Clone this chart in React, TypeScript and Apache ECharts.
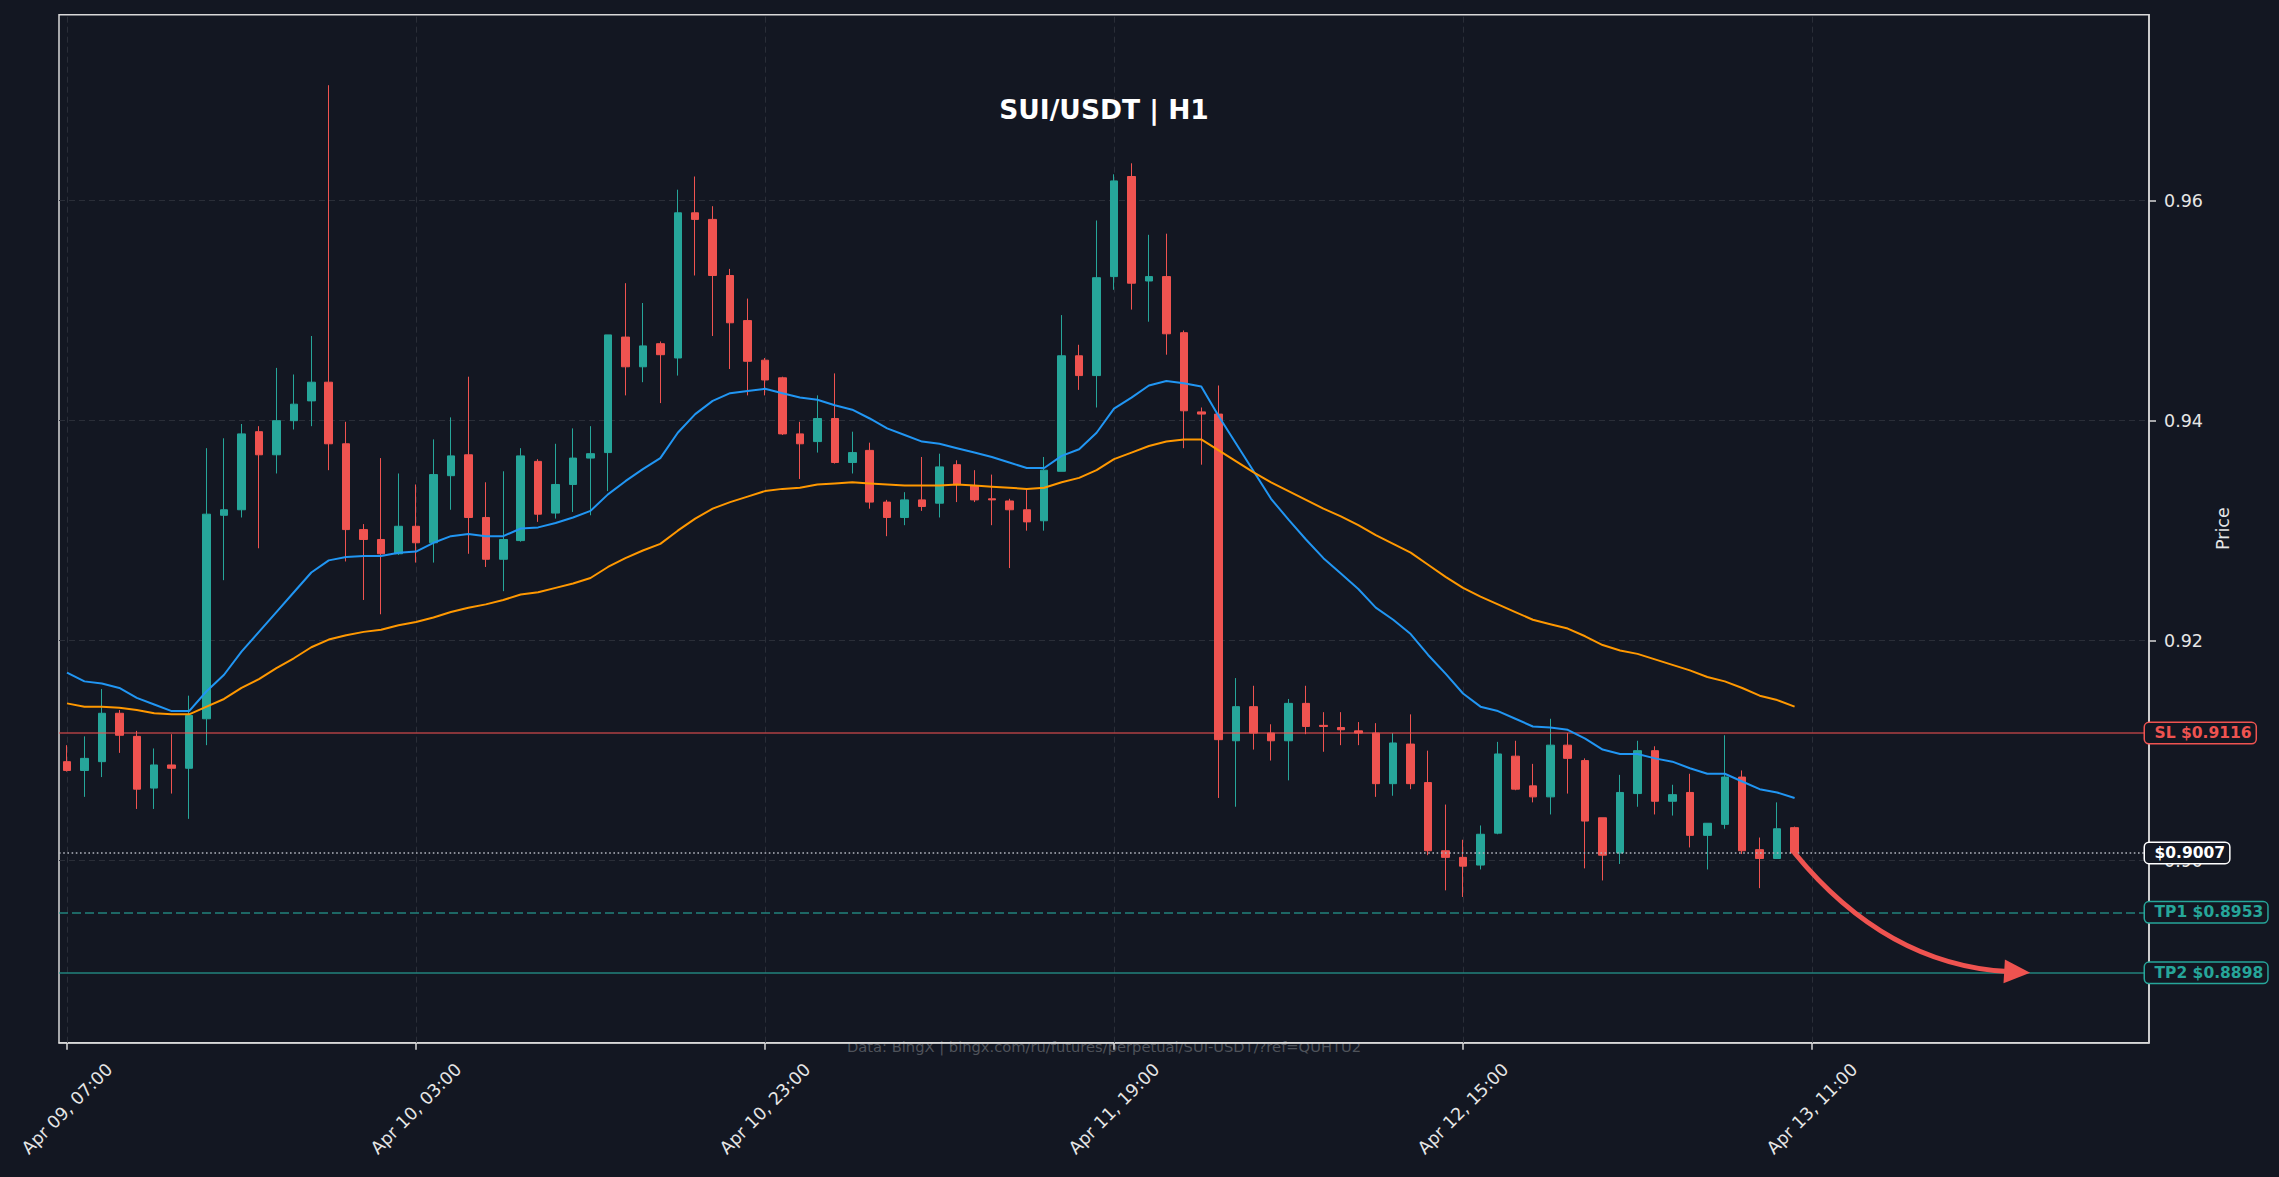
import React, { useEffect, useRef } from "react";
import * as echarts from "echarts";

// ---------- data ----------
const OPEN = [0.9090,0.9082,0.9090,0.9134,0.9113,0.9066,0.9087,0.9084,0.9129,0.9314,
0.9319,0.9390,0.9369,0.9400,0.9418,0.9435,0.9379,0.9301,0.9292,0.9279,
0.9304,0.9289,0.9350,0.9369,0.9312,0.9274,0.9291,0.9363,0.9316,0.9342,
0.9366,0.9371,0.9476,0.9449,0.9470,0.9457,0.9589,0.9583,0.9532,0.9491,
0.9455,0.9439,0.9388,0.9381,0.9402,0.9362,0.9373,0.9326,0.9312,0.9328,
0.9325,0.9360,0.9341,0.9329,0.9327,0.9319,0.9309,0.9354,0.9459,0.9441,
0.9531,0.9622,0.9527,0.9531,0.9480,0.9408,0.9406,0.9109,0.9140,0.9116,
0.9109,0.9143,0.9123,0.9121,0.9118,0.9116,0.9070,0.9106,0.9071,0.9009,
0.9003,0.8996,0.9025,0.9095,0.9068,0.9058,0.9105,0.9091,0.9039,0.9007,
0.9061,0.9100,0.9054,0.9062,0.9023,0.9033,0.9076,0.9010,0.9002,0.9030];

const CLOSE = [0.9082,0.9093,0.9134,0.9114,0.9065,0.9087,0.9084,0.9132,0.9315,0.9319,
0.9388,0.9369,0.9400,0.9415,0.9435,0.9379,0.9301,0.9292,0.9279,0.9304,
0.9289,0.9351,0.9368,0.9312,0.9274,0.9292,0.9368,0.9315,0.9342,0.9366,
0.9370,0.9478,0.9449,0.9468,0.9460,0.9589,0.9583,0.9532,0.9489,0.9454,
0.9437,0.9388,0.9379,0.9402,0.9362,0.9371,0.9326,0.9312,0.9328,0.9322,
0.9358,0.9342,0.9328,0.9328,0.9319,0.9308,0.9355,0.9459,0.9441,0.9530,
0.9618,0.9525,0.9531,0.9479,0.9409,0.9406,0.9110,0.9140,0.9116,0.9109,
0.9143,0.9122,0.9122,0.9119,0.9116,0.9070,0.9107,0.9070,0.9009,0.9003,
0.8995,0.9024,0.9097,0.9065,0.9058,0.9105,0.9093,0.9036,0.9005,0.9062,
0.9100,0.9054,0.9060,0.9023,0.9034,0.9076,0.9009,0.9002,0.9029,0.9007];

const LOW = [0.9081,0.9058,0.9076,0.9098,0.9047,0.9047,0.9061,0.9038,0.9105,0.9255,
0.9312,0.9284,0.9352,0.9392,0.9395,0.9355,0.9272,0.9237,0.9224,0.9278,
0.9271,0.9271,0.9319,0.9279,0.9267,0.9245,0.9290,0.9308,0.9311,0.9317,
0.9314,0.9336,0.9423,0.9435,0.9416,0.9441,0.9532,0.9477,0.9447,0.9423,
0.9423,0.9387,0.9347,0.9371,0.9361,0.9352,0.9320,0.9295,0.9305,0.9318,
0.9312,0.9326,0.9326,0.9305,0.9266,0.9300,0.9300,0.9354,0.9428,0.9412,
0.9519,0.9501,0.9490,0.9460,0.9375,0.9360,0.9057,0.9049,0.9101,0.9091,
0.9073,0.9115,0.9099,0.9105,0.9105,0.9058,0.9059,0.9065,0.9005,0.8973,
0.8967,0.8992,0.9024,0.9064,0.9053,0.9042,0.9061,0.8993,0.8982,0.8997,
0.9049,0.9042,0.9041,0.9012,0.8992,0.9029,0.9006,0.8975,0.9002,0.9007];

const HIGH = [0.9105,0.9113,0.9156,0.9137,0.9118,0.9102,0.9115,0.9150,0.9375,0.9384,
0.9397,0.9395,0.9448,0.9442,0.9477,0.9705,0.9399,0.9306,0.9366,0.9352,
0.9342,0.9383,0.9403,0.9440,0.9344,0.9354,0.9375,0.9365,0.9379,0.9393,
0.9395,0.9478,0.9525,0.9507,0.9472,0.9610,0.9622,0.9595,0.9538,0.9511,
0.9457,0.9440,0.9399,0.9423,0.9443,0.9390,0.9380,0.9328,0.9335,0.9367,
0.9370,0.9364,0.9355,0.9351,0.9329,0.9338,0.9367,0.9496,0.9469,0.9582,
0.9624,0.9634,0.9569,0.9570,0.9482,0.9412,0.9432,0.9166,0.9159,0.9124,
0.9147,0.9159,0.9135,0.9135,0.9126,0.9125,0.9116,0.9133,0.9100,0.9051,
0.9019,0.9032,0.9108,0.9109,0.9088,0.9129,0.9116,0.9093,0.9039,0.9078,
0.9109,0.9104,0.9069,0.9079,0.9034,0.9114,0.9082,0.9021,0.9053,0.9031];

const MA_FAST = [0.9171,0.9163,0.9161,0.9157,0.9148,0.9142,0.9136,0.9136,0.9154,0.9169,
0.9190,0.9208,0.9226,0.9244,0.9262,0.9273,0.9276,0.9277,0.9277,0.9280,
0.9281,0.9289,0.9295,0.9297,0.9295,0.9295,0.9302,0.9303,0.9307,0.9312,
0.9318,0.9333,0.9345,0.9356,0.9366,0.9389,0.9406,0.9418,0.9425,0.9427,
0.9429,0.9425,0.9421,0.9419,0.9414,0.9410,0.9402,0.9393,0.9387,0.9381,
0.9379,0.9375,0.9371,0.9367,0.9362,0.9357,0.9357,0.9368,0.9374,0.9389,
0.9411,0.9421,0.9432,0.9436,0.9434,0.9431,0.9404,0.9379,0.9354,0.9329,
0.9310,0.9292,0.9275,0.9261,0.9247,0.9230,0.9219,0.9206,0.9187,0.9170,
0.9152,0.9140,0.9136,0.9129,0.9122,0.9121,0.9119,0.9111,0.9101,0.9097,
0.9097,0.9093,0.9090,0.9084,0.9079,0.9079,0.9072,0.9065,0.9062,0.9057];

const MA_SLOW = [0.9143,0.9140,0.9140,0.9139,0.9137,0.9134,0.9133,0.9133,0.9140,0.9147,
0.9157,0.9165,0.9175,0.9184,0.9194,0.9201,0.9205,0.9208,0.9210,0.9214,
0.9217,0.9221,0.9226,0.9230,0.9233,0.9237,0.9242,0.9244,0.9248,0.9252,
0.9257,0.9267,0.9275,0.9282,0.9288,0.9300,0.9311,0.9320,0.9326,0.9331,
0.9336,0.9338,0.9339,0.9342,0.9343,0.9344,0.9343,0.9342,0.9341,0.9341,
0.9341,0.9342,0.9341,0.9340,0.9339,0.9338,0.9339,0.9344,0.9348,0.9355,
0.9365,0.9371,0.9377,0.9381,0.9383,0.9383,0.9373,0.9363,0.9353,0.9344,
0.9336,0.9328,0.9320,0.9313,0.9305,0.9296,0.9288,0.9280,0.9269,0.9258,
0.9248,0.9240,0.9233,0.9226,0.9219,0.9215,0.9211,0.9204,0.9196,0.9191,
0.9188,0.9183,0.9178,0.9173,0.9167,0.9163,0.9157,0.9150,0.9146,0.9140];

const X_TICK_POS = [0, 20, 40, 60, 80, 100];
const X_TICK_LABELS = ["Apr 09, 07:00", "Apr 10, 03:00", "Apr 10, 23:00", "Apr 11, 19:00", "Apr 12, 15:00", "Apr 13, 11:00"];
const Y_TICKS = [0.9, 0.92, 0.94, 0.96];

const LEVEL_NAMES = ["SL", "", "TP1", "TP2"];
const LEVEL_VALUES = [0.9116, 0.9007, 0.8953, 0.8898];

const ARROW = [99, 0.9007, 112.5, 0.8898];

const TITLE = "SUI/USDT | H1";
const WATERMARK = "Data: BingX | bingx.com/ru/futures/perpetual/SUI-USDT/?ref=QUHTU2";

// ---------- layout / style ----------
const W = 2279;
const H = 1177;
const PLOT_L = 59;
const PLOT_R = 2149;
const PLOT_T = 14.7;
const PLOT_B = 1042.7;
const X_MIN = -0.458;
const X_MAX = 119.31;
const Y_MIN = 0.88345;
const Y_MAX = 0.97691;

const BG = "#131722";
const SPINE = "#d9d9d9";
const TXT = "#e6e6e6";
const UP = "#26a69a";
const DOWN = "#ef5350";
const FONT = "DejaVu Sans";

const LEVEL_STYLES = [
  { line: { color: "rgba(239,83,80,0.7)", width: 1.5, type: "solid" }, text: DOWN, border: DOWN },
  { line: { color: "#b2b5be", width: 1.5, type: [1.6, 2.6] }, text: "#ffffff", border: "#ffffff" },
  { line: { color: "rgba(38,166,154,0.75)", width: 1.5, type: [9, 4] }, text: UP, border: UP },
  { line: { color: "rgba(38,166,154,0.75)", width: 1.5, type: "solid" }, text: UP, border: UP },
];

function buildOption() {
  const candleData = OPEN.map((o, i) => [i, o, CLOSE[i], LOW[i], HIGH[i]]);
  const fastData = MA_FAST.map((v, i) => [i, v]);
  const slowData = MA_SLOW.map((v, i) => [i, v]);

  const gridLineStyle = { color: "#2a2e38", width: 1, type: [6, 4] };
  const gridMarks = [
    ...Y_TICKS.map((v) => ({ yAxis: v })),
    ...X_TICK_POS.map((v) => ({ xAxis: v })),
  ];

  const levelMarks = LEVEL_VALUES.map((v, i) => ({
    yAxis: v,
    lineStyle: LEVEL_STYLES[i].line,
    label: {
      show: true,
      position: "end",
      distance: -4,
      formatter: (LEVEL_NAMES[i] ? LEVEL_NAMES[i] + " " : "") + "$" + v.toFixed(4),
      color: LEVEL_STYLES[i].text,
      fontFamily: FONT,
      fontWeight: "bold",
      fontSize: 15.5,
      backgroundColor: BG,
      borderColor: LEVEL_STYLES[i].border,
      borderWidth: 1.5,
      borderRadius: 4,
      padding: [2, 4, 2, 9.5],
    },
  }));

  return {
    animation: false,
    backgroundColor: BG,
    textStyle: { fontFamily: FONT },
    grid: {
      left: PLOT_L,
      right: W - PLOT_R,
      top: PLOT_T,
      bottom: H - PLOT_B,
      show: true,
      borderColor: SPINE,
      borderWidth: 1.5,
      backgroundColor: "transparent",
    },
    xAxis: {
      type: "value",
      min: X_MIN,
      max: X_MAX,
      axisLine: { show: true, onZero: false, lineStyle: { color: SPINE, width: 1.5 } },
      axisTick: { show: true, customValues: X_TICK_POS, length: 7, lineStyle: { color: SPINE, width: 1.5 } },
      axisLabel: {
        customValues: X_TICK_POS,
        formatter: (v: number) => X_TICK_LABELS[X_TICK_POS.indexOf(Math.round(v))] ?? "",
        rotate: 45,
        align: "center",
        verticalAlign: "middle",
        margin: 66,
        color: TXT,
        fontSize: 17.5,
        fontFamily: FONT,
      },
      splitLine: { show: false },
    },
    yAxis: {
      type: "value",
      position: "right",
      min: Y_MIN,
      max: Y_MAX,
      axisLine: { show: true, onZero: false, lineStyle: { color: SPINE, width: 1.5 } },
      axisTick: { show: true, customValues: Y_TICKS, length: 7, lineStyle: { color: SPINE, width: 1.5 } },
      axisLabel: {
        customValues: Y_TICKS,
        formatter: (v: number) => v.toFixed(2),
        margin: 15,
        color: TXT,
        fontSize: 17.5,
        fontFamily: FONT,
      },
      splitLine: { show: false },
      name: "Price",
      nameLocation: "middle",
      nameRotate: 90,
      nameGap: 63,
      nameTextStyle: { color: TXT, fontSize: 17.5, fontFamily: FONT },
    },
    graphic: [
      {
        type: "text",
        x: (PLOT_L + PLOT_R) / 2,
        y: 109,
        z: 100,
        style: {
          text: TITLE,
          fill: "#ffffff",
          fontFamily: FONT,
          fontWeight: "bold",
          fontSize: 26.5,
          align: "center",
          verticalAlign: "middle",
        },
      },
      {
        type: "text",
        x: (PLOT_L + PLOT_R) / 2,
        y: 1046,
        z: -1,
        style: {
          text: WATERMARK,
          fill: "#4f535b",
          fontFamily: FONT,
          fontSize: 14.7,
          align: "center",
          verticalAlign: "middle",
        },
      },
    ],
    series: [
      {
        type: "line",
        data: [],
        z: 1,
        silent: true,
        markLine: {
          silent: true,
          z: 1,
          precision: 6,
          symbol: ["none", "none"],
          label: { show: false },
          lineStyle: gridLineStyle,
          data: gridMarks,
        },
      },
      {
        type: "line",
        data: [],
        z: 4,
        silent: true,
        markLine: {
          silent: true,
          z: 4,
          precision: 6,
          symbol: ["none", "none"],
          data: levelMarks,
        },
      },
      {
        type: "candlestick",
        data: candleData,
        encode: { x: 0, y: [1, 2, 3, 4] },
        barWidth: 8,
        z: 3,
        itemStyle: {
          color: UP,
          color0: DOWN,
          borderColor: UP,
          borderColor0: DOWN,
          borderWidth: 1,
        },
      },
      {
        type: "line",
        data: fastData,
        showSymbol: false,
        z: 5,
        lineStyle: { color: "#2196f3", width: 2 },
      },
      {
        type: "line",
        data: slowData,
        showSymbol: false,
        z: 5,
        lineStyle: { color: "#ff9800", width: 2 },
      },
      {
        type: "custom",
        z: 6,
        clip: false,
        silent: true,
        data: [ARROW],
        encode: { x: [0, 2], y: [1, 3] },
        renderItem: (_p: any, api: any) => {
          const s = api.coord([api.value(0), api.value(1)]);
          const e = api.coord([api.value(2), api.value(3)]);
          const rad = 0.22;
          const dx = e[0] - s[0];
          const dy = e[1] - s[1];
          const cx = (s[0] + e[0]) / 2 - rad * dy;
          const cy = (s[1] + e[1]) / 2 + rad * dx;
          const tx = e[0] - cx;
          const ty = e[1] - cy;
          const tl = Math.hypot(tx, ty) || 1;
          const ux = tx / tl;
          const uy = ty / tl;
          const headLen = 26;
          const headHalf = 12;
          const bx = e[0] - ux * headLen;
          const by = e[1] - uy * headLen;
          const lx = e[0] - ux * (headLen - 4);
          const ly = e[1] - uy * (headLen - 4);
          return {
            type: "group",
            children: [
              {
                type: "bezierCurve",
                shape: { x1: s[0], y1: s[1], x2: lx, y2: ly, cpx1: cx, cpy1: cy },
                style: { stroke: DOWN, lineWidth: 5, fill: "none", lineCap: "round" },
              },
              {
                type: "polygon",
                shape: {
                  points: [
                    [e[0], e[1]],
                    [bx - uy * headHalf, by + ux * headHalf],
                    [bx + uy * headHalf, by - ux * headHalf],
                  ],
                },
                style: { fill: DOWN },
              },
            ],
          };
        },
      },
    ],
  };
}

export default function App() {
  const ref = useRef<HTMLDivElement>(null);
  useEffect(() => {
    document.body.style.margin = "0";
    document.body.style.background = BG;
    const chart = echarts.init(ref.current as HTMLDivElement, null, { renderer: "svg", width: W, height: H });
    chart.setOption(buildOption() as any);
    return () => chart.dispose();
  }, []);
  return <div ref={ref} style={{ position: "absolute", left: 0, top: 0, width: W, height: H }} />;
}
